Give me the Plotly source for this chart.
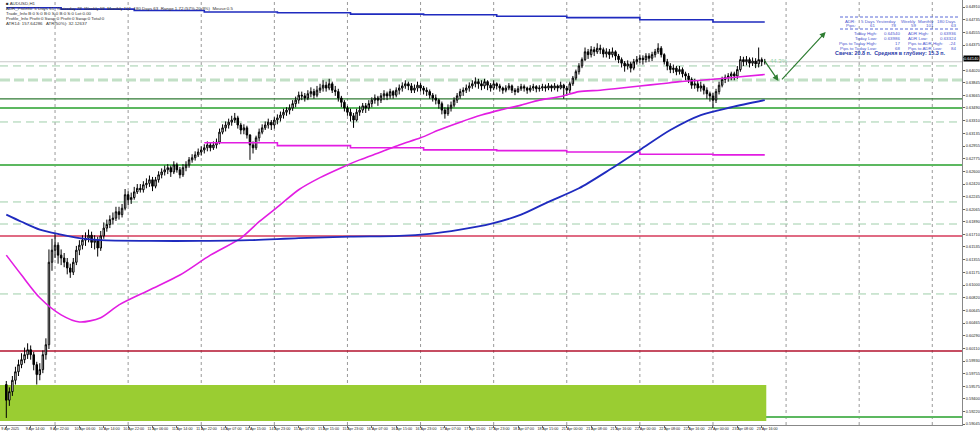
import plotly.graph_objects as go

# ---------------- data ----------------
first_open = 0.5960
close = [
    # 9 Apr
    0.5938,0.5950,0.5966,0.5978,0.5988,0.5995,0.6002,0.6009,0.6002,0.5988,0.5974,0.5981,0.6002,0.6016,0.6132,0.6149,0.6156,0.6142,
    # 10 Apr
    0.6138,0.6132,0.6124,0.6118,0.6132,0.6149,0.6156,0.6163,0.6166,0.6170,0.6160,0.6163,0.6152,0.6169,0.6180,0.6185,0.6192,0.6194,0.6203,0.6199,0.6208,0.6227,0.6220,0.6223,
    # 11 Apr
    0.6231,0.6236,0.6234,0.6241,0.6243,0.6248,0.6239,0.6248,0.6255,0.6259,0.6262,0.6265,0.6259,0.6269,0.6262,0.6255,0.6265,0.6269,0.6276,0.6279,0.6283,0.6287,0.6290,
    # 14 Apr
    0.6293,0.6297,0.6293,0.6297,0.6301,0.6315,0.6321,0.6325,0.6329,0.6332,0.6335,0.6325,0.6318,0.6321,0.6311,0.6297,0.6293,0.6307,0.6315,0.6321,0.6325,0.6329,0.6325,0.6332,
    # 15 Apr
    0.6335,0.6339,0.6343,0.6346,0.6349,0.6355,0.6360,0.6367,0.6366,0.6363,0.6369,0.6372,0.6367,0.6374,0.6377,0.6381,0.6377,0.6383,0.6374,0.6372,0.6363,0.6357,0.6349,0.6343,
    # 16 Apr
    0.6338,0.6332,0.6343,0.6346,0.6352,0.6349,0.6355,0.6360,0.6363,0.6360,0.6366,0.6369,0.6366,0.6372,0.6367,0.6374,0.6377,0.6380,0.6383,0.6380,0.6374,0.6377,0.6381,0.6377,
    # 17 Apr
    0.6374,0.6372,0.6367,0.6363,0.6360,0.6355,0.6346,0.6341,0.6349,0.6353,0.6360,0.6366,0.6372,0.6374,0.6377,0.6380,0.6383,0.6386,0.6383,0.6380,0.6386,0.6381,0.6377,0.6383,
    # 18 Apr
    0.6380,0.6377,0.6374,0.6377,0.6380,0.6374,0.6372,0.6376,0.6379,0.6377,0.6374,0.6377,0.6379,0.6376,0.6377,0.6379,0.6377,0.6380,0.6377,0.6380,0.6377,0.6381,0.6377,
    # 21 Apr
    0.6374,0.6383,0.6391,0.6400,0.6408,0.6417,0.6428,0.6424,0.6431,0.6428,0.6433,0.6431,0.6425,0.6428,0.6424,0.6428,0.6422,0.6417,0.6412,0.6408,0.6411,0.6405,0.6414,0.6417,
    # 22 Apr
    0.6419,0.6417,0.6422,0.6419,0.6424,0.6428,0.6433,0.6424,0.6414,0.6408,0.6403,0.6405,0.6400,0.6403,0.6397,0.6394,0.6389,0.6381,0.6383,0.6377,0.6380,0.6374,0.6369,0.6366,
    # 23 Apr
    0.6360,0.6372,0.6381,0.6389,0.6392,0.6394,0.6397,0.6394,0.6403,0.6417,0.6414,0.6417,0.6412,0.6415,0.6411,0.6417,0.6414,0.6414,
]
high = [
    0.5965,0.5956,0.5972,0.5985,0.5995,0.6004,0.6012,0.6018,0.6015,0.6006,0.5992,0.5990,0.6008,0.6025,0.6150,0.6165,0.6172,0.6160,
    0.6150,0.6145,0.6138,0.6130,0.6138,0.6155,0.6163,0.6170,0.6174,0.6178,0.6175,0.6170,0.6168,0.6176,0.6188,0.6192,0.6198,0.6202,0.6210,0.6210,0.6214,0.6235,0.6232,0.6230,
    0.6238,0.6242,0.6242,0.6246,0.6250,0.6254,0.6252,0.6252,0.6260,0.6264,0.6268,0.6270,0.6268,0.6274,0.6272,0.6266,0.6270,0.6274,0.6280,0.6284,0.6288,0.6292,0.6295,
    0.6298,0.6302,0.6300,0.6302,0.6306,0.6320,0.6326,0.6330,0.6334,0.6338,0.6342,0.6338,0.6328,0.6326,0.6324,0.6312,0.6302,0.6310,0.6320,0.6326,0.6330,0.6334,0.6332,0.6336,
    0.6340,0.6344,0.6348,0.6350,0.6354,0.6360,0.6365,0.6372,0.6372,0.6370,0.6374,0.6378,0.6376,0.6380,0.6383,0.6388,0.6386,0.6390,0.6386,0.6380,0.6376,0.6366,0.6360,0.6352,
    0.6348,0.6342,0.6348,0.6352,0.6356,0.6356,0.6360,0.6364,0.6368,0.6366,0.6370,0.6374,0.6372,0.6376,0.6374,0.6378,0.6382,0.6385,0.6388,0.6386,0.6384,0.6382,0.6386,0.6384,
    0.6380,0.6378,0.6375,0.6370,0.6368,0.6362,0.6358,0.6350,0.6354,0.6358,0.6364,0.6370,0.6376,0.6378,0.6382,0.6385,0.6388,0.6392,0.6390,0.6388,0.6390,0.6388,0.6384,0.6388,
    0.6385,0.6383,0.6379,0.6381,0.6384,0.6382,0.6377,0.6380,0.6383,0.6382,0.6379,0.6381,0.6383,0.6381,0.6381,0.6383,0.6382,0.6384,0.6382,0.6384,0.6382,0.6386,0.6383,
    0.6380,0.6386,0.6394,0.6403,0.6412,0.6420,0.6434,0.6432,0.6436,0.6435,0.6440,0.6438,0.6434,0.6433,0.6432,0.6434,0.6430,0.6425,0.6420,0.6415,0.6416,0.6414,0.6418,0.6422,
    0.6424,0.6423,0.6426,0.6426,0.6428,0.6432,0.6440,0.6436,0.6426,0.6418,0.6412,0.6410,0.6408,0.6408,0.6406,0.6400,0.6398,0.6392,0.6390,0.6388,0.6386,0.6383,0.6378,0.6372,
    0.6370,0.6376,0.6386,0.6393,0.6396,0.6398,0.6400,0.6400,0.6408,0.6422,0.6421,0.6422,0.6420,0.6420,0.6419,0.6434,0.6420,0.6418,
]
low = [
    0.5913,0.5930,0.5944,0.5960,0.5972,0.5983,0.5990,0.5996,0.5995,0.5980,0.5960,0.5966,0.5976,0.5995,0.6010,0.6120,0.6138,0.6130,
    0.6128,0.6125,0.6115,0.6110,0.6114,0.6128,0.6142,0.6150,0.6155,0.6160,0.6152,0.6150,0.6140,0.6148,0.6165,0.6175,0.6180,0.6185,0.6190,0.6192,0.6195,0.6205,0.6212,0.6214,
    0.6220,0.6228,0.6230,0.6230,0.6236,0.6238,0.6232,0.6236,0.6244,0.6250,0.6254,0.6256,0.6252,0.6256,0.6258,0.6250,0.6252,0.6260,0.6265,0.6272,0.6275,0.6280,0.6282,
    0.6285,0.6288,0.6288,0.6290,0.6292,0.6298,0.6312,0.6316,0.6320,0.6324,0.6328,0.6320,0.6312,0.6312,0.6306,0.6276,0.6285,0.6290,0.6302,0.6312,0.6318,0.6320,0.6318,0.6320,
    0.6326,0.6330,0.6334,0.6338,0.6340,0.6345,0.6350,0.6355,0.6360,0.6358,0.6360,0.6364,0.6362,0.6364,0.6370,0.6372,0.6372,0.6374,0.6370,0.6366,0.6358,0.6350,0.6344,0.6338,
    0.6330,0.6321,0.6330,0.6338,0.6342,0.6342,0.6345,0.6350,0.6355,0.6352,0.6356,0.6360,0.6360,0.6362,0.6362,0.6364,0.6368,0.6372,0.6376,0.6374,0.6370,0.6370,0.6372,0.6372,
    0.6368,0.6366,0.6362,0.6358,0.6354,0.6348,0.6340,0.6334,0.6338,0.6344,0.6350,0.6356,0.6362,0.6366,0.6370,0.6372,0.6376,0.6378,0.6376,0.6374,0.6376,0.6374,0.6372,0.6374,
    0.6375,0.6372,0.6369,0.6371,0.6374,0.6370,0.6367,0.6370,0.6373,0.6372,0.6369,0.6371,0.6373,0.6371,0.6372,0.6373,0.6372,0.6374,0.6372,0.6374,0.6372,0.6375,0.6362,
    0.6366,0.6370,0.6380,0.6388,0.6396,0.6405,0.6415,0.6418,0.6420,0.6422,0.6425,0.6425,0.6420,0.6420,0.6418,0.6420,0.6416,0.6412,0.6406,0.6400,0.6403,0.6399,0.6402,0.6410,
    0.6412,0.6410,0.6413,0.6414,0.6415,0.6420,0.6425,0.6420,0.6410,0.6402,0.6398,0.6398,0.6395,0.6396,0.6392,0.6388,0.6384,0.6376,0.6376,0.6372,0.6372,0.6368,0.6362,0.6358,
    0.6349,0.6356,0.6368,0.6378,0.6384,0.6386,0.6388,0.6388,0.6390,0.6400,0.6408,0.6409,0.6406,0.6408,0.6405,0.6406,0.6408,0.6410,
]
open_ = [first_open] + close[:-1]
bars = list(range(len(close)))

# time-axis labels (one every 8 H1 bars)
time_labels = ["9 Apr 2025","9 Apr 14:00","9 Apr 22:00","10 Apr 06:00","10 Apr 14:00","10 Apr 22:00",
               "11 Apr 06:00","11 Apr 14:00","11 Apr 22:00","14 Apr 07:00","14 Apr 15:00","14 Apr 23:00",
               "15 Apr 07:00","15 Apr 15:00","15 Apr 23:00","16 Apr 07:00","16 Apr 15:00","16 Apr 23:00",
               "17 Apr 07:00","17 Apr 15:00","17 Apr 23:00","18 Apr 07:00","18 Apr 15:00","21 Apr 00:00",
               "21 Apr 08:00","21 Apr 16:00","22 Apr 00:00","22 Apr 08:00","22 Apr 16:00","23 Apr 00:00",
               "23 Apr 08:00","23 Apr 16:00"]
time_ticks = [8 * k for k in range(len(time_labels))]

price_labels = ["0.64910","0.64735","0.64555","0.64375","0.64200","0.64020","0.63845","0.63665","0.63490",
                "0.63310","0.63135","0.62955","0.62775","0.62600","0.62420","0.62245","0.62065","0.61890",
                "0.61710","0.61535","0.61355","0.61175","0.61000","0.60820","0.60645","0.60465","0.60290",
                "0.60110","0.59930","0.59755","0.59575","0.59400","0.59220","0.59045"]

# moving averages (sampled points)
ma_fast_bars = [0,5,11,18,24,31,37,47,57,67,77,83,90,96,103,110,116,123,129,136,142,149,156,162,169,175,182,188,195,202,208,215,221,228,234,241,249]
ma_fast_vals = [0.6142,0.6114,0.6082,0.6058,0.6048,0.6054,0.6072,0.6093,0.6114,0.6142,0.6166,0.6189,0.6213,0.6234,0.6251,0.6265,0.6276,0.6287,0.6297,0.6307,0.6318,0.6329,0.6339,0.6346,0.6353,0.6360,0.6365,0.6372,0.6374,0.6377,0.6380,0.6383,0.6386,0.6388,0.6390,0.6393,0.6396]
ma_slow_bars = [0,5,11,18,24,31,47,64,80,96,113,129,139,149,159,169,178,188,198,208,218,228,238,249]
ma_slow_vals = [0.6199,0.6189,0.6178,0.6171,0.6166,0.6163,0.6162,0.6162,0.6163,0.6166,0.6168,0.6169,0.6172,0.6178,0.6186,0.6199,0.6217,0.6236,0.6262,0.6290,0.6318,0.6339,0.6350,0.6360]

# daily step lines
day_start_bars = [0,18,42,65,89,113,137,161,184,208,232]
daily_blue_vals = [0.6490,0.6488,0.6486,0.6484,0.6483,0.6481,0.6480,0.6478,0.6476,0.6473,0.6470]
daily_pink_bars = [65,89,113,137,161,184,208,232]
daily_pink_vals = [0.6300,0.6296,0.6293,0.6290,0.6289,0.6287,0.6284,0.6283]

# horizontal levels
dashed_levels = [0.64081,0.63293,0.62168,0.61858,0.60874]
thick_dashed_level = 0.63884
dark_green_level = 0.63617
green_levels = [0.63490,0.62688,0.59144]
red_levels = [(0.61690,"#d63a5a"),(0.60072,"#b3122e")]
zone_low, zone_high = 0.59088, 0.59594

# projection arrows (bar, price)
proj_a = [(248.5, 0.6418), (253.5, 0.6387)]
proj_b = [(254.2, 0.6387), (269.0, 0.6456)]

# ---------------- figure ----------------
W, H = 980, 433
ML, MR, MT, MB = 0, 18, 0, 8
PW, PH = W - ML - MR, H - MT - MB
BAR_PX = 3.046
X0_PX = 6.3
xr = [-X0_PX / BAR_PX, (PW - X0_PX) / BAR_PX]
yr = [0.59031, 0.650085]
FONT = "Liberation Sans"

def px(x):
    return x / PW

def py(y):
    return 1 - y / PH

fig = go.Figure()

shapes = []
# vertical dotted grid every 24 bars
for g in range(16, int(xr[1]) + 1, 24):
    shapes.append(dict(type="line", xref="x", yref="paper", x0=g, x1=g, y0=0, y1=1,
                       line=dict(color="#9a9a9a", width=1, dash="dot"), layer="below"))
# zone
shapes.append(dict(type="rect", xref="x", yref="y", x0=xr[0], x1=bars[-1] + 0.5, y0=zone_low, y1=zone_high,
                   fillcolor="#9acd32", line=dict(width=0), layer="below"))
for lv in dashed_levels:
    shapes.append(dict(type="line", xref="paper", yref="y", x0=0, x1=1, y0=lv, y1=lv,
                       line=dict(color="#9fceaa", width=1, dash="8px,5px"), layer="below"))
shapes.append(dict(type="line", xref="paper", yref="y", x0=0, x1=1, y0=thick_dashed_level, y1=thick_dashed_level,
                   line=dict(color="#c2e0c6", width=3, dash="10px,4px"), layer="below"))
shapes.append(dict(type="line", xref="paper", yref="y", x0=0, x1=1, y0=dark_green_level, y1=dark_green_level,
                   line=dict(color="#2f7a33", width=1.2), layer="below"))
for lv in green_levels:
    shapes.append(dict(type="line", xref="paper", yref="y", x0=0, x1=1, y0=lv, y1=lv,
                       line=dict(color="#5cb860", width=2), layer="below"))
for lv, c in red_levels:
    shapes.append(dict(type="line", xref="paper", yref="y", x0=0, x1=1, y0=lv, y1=lv,
                       line=dict(color=c, width=1.6), layer="below"))
# bid line
shapes.append(dict(type="line", xref="paper", yref="y", x0=0, x1=1, y0=close[-1], y1=close[-1],
                   line=dict(color="#c8c8c8", width=1), layer="below"))
# info panel separators
for yy in (17, 29):
    shapes.append(dict(type="line", xref="paper", yref="paper", x0=px(840), x1=px(958), y0=py(yy), y1=py(yy),
                       line=dict(color="#5a6ad8", width=1, dash="3px,2px")))

# step lines
fig.add_trace(go.Scatter(x=day_start_bars + [bars[-1]], y=daily_blue_vals + [daily_blue_vals[-1]],
                         mode="lines", line=dict(color="#1f2bbf", width=1.6, shape="hv"),
                         hoverinfo="skip", showlegend=False))
fig.add_trace(go.Scatter(x=daily_pink_bars + [bars[-1]], y=daily_pink_vals + [daily_pink_vals[-1]],
                         mode="lines", line=dict(color="#e21de2", width=1.6, shape="hv"),
                         hoverinfo="skip", showlegend=False))

fig.add_trace(go.Candlestick(
    x=bars, open=open_, high=high, low=low, close=close,
    increasing=dict(line=dict(color="black", width=1), fillcolor="white"),
    decreasing=dict(line=dict(color="black", width=1), fillcolor="black"),
    whiskerwidth=0, hoverinfo="skip", showlegend=False))

fig.add_trace(go.Scatter(x=ma_fast_bars, y=ma_fast_vals, mode="lines",
                         line=dict(color="#e21de2", width=1.6, shape="spline", smoothing=0.8),
                         hoverinfo="skip", showlegend=False))
fig.add_trace(go.Scatter(x=ma_slow_bars, y=ma_slow_vals, mode="lines",
                         line=dict(color="#1f2bbf", width=1.8, shape="spline", smoothing=0.8),
                         hoverinfo="skip", showlegend=False))

ann = []
for (s, e) in (proj_a, proj_b):
    ann.append(dict(x=e[0], y=e[1], ax=s[0], ay=s[1], xref="x", yref="y", axref="x", ayref="y",
                    text="", showarrow=True, arrowhead=2, arrowsize=1, arrowwidth=1.2, arrowcolor="#2e7d32"))
ann.append(dict(x=proj_a[0][0] + 1.5, y=close[-1] + 0.0001, xref="x", yref="y", text="44.3%", showarrow=False,
                xanchor="left", font=dict(family=FONT, size=6, color="#8fcf9f")))
# current price box
ann.append(dict(x=1, y=close[-1] + 0.0004, xref="paper", yref="y", text=f"{close[-1]:.5f}", showarrow=False,
                xanchor="left", xshift=1, bgcolor="black", borderpad=0,
                font=dict(family=FONT, size=4, color="white")))

# top-left info lines
info_lines = [
    "■ AUDUSD,H1",
    "ADR_ProInfo: 5 Days 61  Yesterday 78  Weekly 59  Monthly 101  180 Days 63  Range 1.72 (57%,20.9%)  Mouse:0.5",
    "Trade_Info B:0 S:0 B:0 S:0 B:0 S:0 Lot:0.00",
    "Profile_Info Profit:0 Swap:0 Profit:0 Swap:0 Total:0",
    "ATR14: 157.64286   ATR(50%): 32.12637",
]
for k, t in enumerate(info_lines):
    ann.append(dict(x=px(4), y=py(3.5 + 5 * k), xref="paper", yref="paper", text=t, showarrow=False,
                    xanchor="left", yanchor="middle", font=dict(family=FONT, size=4.4, color="#333333")))

# info panel (top right)
panel_col = "#4a58d0"
def ptxt(x, y, t, anchor="right", size=4.4, color=panel_col):
    ann.append(dict(x=px(x), y=py(y), xref="paper", yref="paper", text=t, showarrow=False,
                    xanchor=anchor, yanchor="middle", font=dict(family=FONT, size=size, color=color)))

hdr = ["ADR:", "5 Days", "Yesterday", "Weekly", "Monthly", "180 Days"]
pips = ["Pips:", "61", "78", "59", "101", "63"]
cols = [858, 877, 898, 918, 936, 958]
for c, a, b in zip(cols, hdr, pips):
    ptxt(c, 21, a)
    ptxt(c, 26, b)
rows = [("Today High:", "0.64540", "ADR High:", "0.63936"),
        ("Today Low:", "0.63986", "ADR Low:", "0.63324"),
        ("Pips to Today High:", "17", "Pips to ADR High:", "-24"),
        ("Pips to Today Low:", "68", "Pips to ADR Low:", "84")]
for r, (a, b, c, d) in enumerate(rows):
    yy = 34 + 4.7 * r
    ptxt(879, yy, a)
    ptxt(902, yy, b)
    ptxt(906, yy, c, anchor="left")
    ptxt(958, yy, d)
ptxt(833, 53.5, "<b>Свеча: 20.8 п.  Средняя в глубину: 15.3 п.</b>", anchor="left", size=5.4, color="#2b3ba8")

fig.update_layout(
    width=W, height=H, margin=dict(l=ML, r=MR, t=MT, b=MB, autoexpand=False),
    paper_bgcolor="white", plot_bgcolor="white",
    shapes=shapes, annotations=ann, showlegend=False,
    xaxis=dict(range=xr, tickvals=time_ticks, ticktext=time_labels, ticks="outside", ticklen=2,
               tickcolor="#666", tickangle=0, automargin=False,
               ticklabelposition="outside right", ticklabelshift=-6, ticklabelstandoff=0,
               tickfont=dict(family=FONT, size=3.7, color="#222"), showgrid=False, zeroline=False,
               showline=True, linecolor="#888", linewidth=1, mirror=True,
               rangeslider=dict(visible=False), fixedrange=True),
    yaxis=dict(range=yr, side="right", tickvals=[float(v) for v in price_labels], ticktext=price_labels,
               ticks="outside", ticklen=2, tickcolor="#666", automargin=False, ticklabelstandoff=0,
               tickfont=dict(family=FONT, size=3.9, color="#222"), showgrid=False, zeroline=False,
               showline=True, linecolor="#888", linewidth=1, mirror=True, fixedrange=True),
)

fig.write_html("out.html", config={"displayModeBar": False},
               post_script="document.body.style.margin='0';document.body.style.overflow='hidden';")
